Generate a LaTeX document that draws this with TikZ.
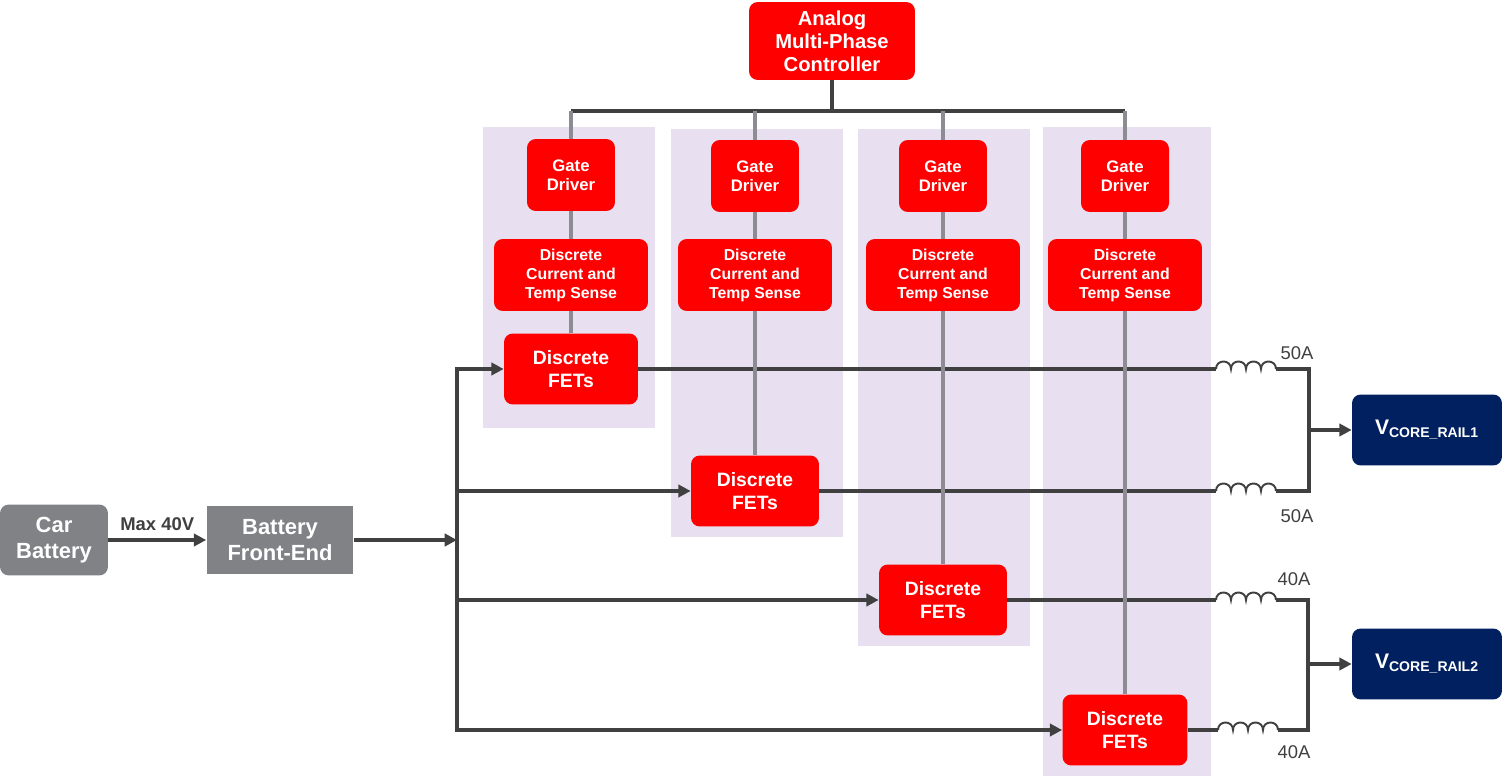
\documentclass[tikz,border=0pt]{standalone}
\usepackage{fontspec}
\setmainfont{Liberation Sans}
\usetikzlibrary{positioning,arrows.meta}

\definecolor{tired}{RGB}{255,0,0}
\definecolor{tigray}{RGB}{128,130,133}
\definecolor{tinavy}{RGB}{0,32,96}
\definecolor{phase}{RGB}{232,224,241}
\definecolor{wiregray}{RGB}{64,64,64}
\definecolor{linkgray}{RGB}{140,140,146}

% one inductor, four turns, #1 = step per turn
\newcommand{\coil}[1]{\foreach \k in {1,...,4}{ .. controls +(0,-10) and +(0,-10) .. ++(#1,0)}}

\begin{document}
\begin{tikzpicture}[x=0.02cm,y=-0.02cm,
    redbox/.style={fill=tired, rounded corners=5pt, text=white, align=center, inner sep=1pt},
    ctrl/.style={redbox, minimum width=3.32cm, minimum height=1.56cm, font=\bfseries\fontsize{11.5}{13}\selectfont},
    gd/.style={redbox, minimum width=1.76cm, minimum height=1.44cm, font=\bfseries\fontsize{9.5}{11}\selectfont},
    cs/.style={redbox, minimum width=3.08cm, minimum height=1.44cm, font=\bfseries\fontsize{9}{10.8}\selectfont},
    fet/.style={redbox, minimum width=2.56cm, minimum height=1.42cm, font=\bfseries\fontsize{11}{13}\selectfont},
    gbox/.style={fill=tigray, text=white, align=center, inner sep=1pt, font=\bfseries\fontsize{12.5}{14.7}\selectfont},
    rail/.style={fill=tinavy, rounded corners=5pt, text=white, minimum width=3cm, minimum height=1.42cm, font=\bfseries\fontsize{12}{14}\selectfont},
    amp/.style={text=wiregray, font=\fontsize{10.5}{12}\selectfont},
    wire/.style={draw=wiregray, line width=2pt},
    coilline/.style={draw=wiregray, line width=1.1pt},
    arr/.style={wire, -{Triangle[length=7pt,width=7pt]}},
    link/.style={draw=linkgray, line width=2pt}]

  \useasboundingbox (0,0) rectangle (1502,776);

  % phase columns
  \fill[phase] (483,127) rectangle (655,428);
  \fill[phase] (671,129) rectangle (843,537);
  \fill[phase] (858,129) rectangle (1030,646);
  \fill[phase] (1043,127) rectangle (1211,776);

  \node[ctrl] (ctrl) at (832,41) {Analog\\Multi-Phase\\Controller};

  \node[gd] (gd1) at (571,175) {Gate\\Driver};
  \node[gd] (gd2) at (755,176) {Gate\\Driver};
  \node[gd] (gd3) at (943,176) {Gate\\Driver};
  \node[gd] (gd4) at (1125,176) {Gate\\Driver};

  \node[cs] (cs1) at (571,275) {Discrete\\Current and\\Temp Sense};
  \node[cs] (cs2) at (755,275) {Discrete\\Current and\\Temp Sense};
  \node[cs] (cs3) at (943,275) {Discrete\\Current and\\Temp Sense};
  \node[cs] (cs4) at (1125,275) {Discrete\\Current and\\Temp Sense};

  \node[fet, minimum width=2.68cm] (fet1) at (571,369) {Discrete\\FETs};
  \node[fet] (fet2) at (755,491) {Discrete\\FETs};
  \node[fet] (fet3) at (943,600) {Discrete\\FETs};
  \node[fet, minimum width=2.5cm] (fet4) at (1125,730) {Discrete\\FETs};

  \node[gbox, rounded corners=5pt, minimum width=2.16cm, minimum height=1.42cm] (car) at (54,540) {Car\\Battery};
  \node[gbox, minimum width=2.94cm, minimum height=1.36cm] (bfe) at (280,540) {Battery\\Front-End};

  \node[rail] (rail1) at (1427,430) {V\textsubscript{CORE\_RAIL1}};
  \node[rail] (rail2) at (1427,664) {V\textsubscript{CORE\_RAIL2}};

  \coordinate (bus) at (571,111);
  \coordinate (jn) at (457,540);
  \coordinate (ind1) at (1216,369);
  \coordinate (ind1e) at (1276,369);
  \coordinate (ind2) at (1216,491);
  \coordinate (ind2e) at (1276,491);
  \coordinate (ind3) at (1216,600);
  \coordinate (ind3e) at (1276,600);
  \coordinate (ind4) at (1218,730);
  \coordinate (ind4e) at (1278,730);
  \coordinate (sum1) at (1309,430);
  \coordinate (sum2) at (1308,664);

  % controller bus
  \draw[wire] (ctrl) -- (ctrl |- bus);
  \draw[wire] (bus) -- (gd4 |- bus);

  % input side
  \draw[arr] (car) -- node[above=1pt, text=wiregray, font=\bfseries\fontsize{10.5}{12}\selectfont] {Max 40V} (bfe);
  \draw[arr] (bfe) -- (jn);
  \draw[arr] (jn) -- (jn |- fet1) -- (fet1);
  \draw[arr] (jn |- fet2) -- (fet2);
  \draw[arr] (jn |- fet3) -- (fet3);
  \draw[arr] (jn) -- (jn |- fet4) -- (fet4);

  % outputs
  \draw[wire] (fet1) -- (ind1);
  \draw[wire] (fet2) -- (ind2);
  \draw[wire] (fet3) -- (ind3);
  \draw[wire] (fet4) -- (ind4);
  \foreach \i in {1,...,4}
    \draw[coilline] (ind\i) \coil{15};
  \draw[wire] (ind1e) -- (sum1 |- ind1e) -- (sum1 |- ind2e) -- (ind2e);
  \draw[wire] (ind3e) -- (sum2 |- ind3e) -- (sum2 |- ind4e) -- (ind4e);
  \draw[arr] (sum1) -- (rail1);
  \draw[arr] (sum2) -- (rail2);

  % gate links
  \foreach \i in {1,...,4}{
    \draw[link] (gd\i |- bus) -- (gd\i);
    \draw[link] (gd\i) -- (cs\i);
    \draw[link] (cs\i) -- (fet\i);
  }

  \node[amp] (a1) at (1297,353) {50A};
  \node[amp] (a2) at (1297,516) {50A};
  \node[amp] (a3) at (1294,579) {40A};
  \node[amp] (a4) at (1294,752) {40A};
\end{tikzpicture}
\end{document}
